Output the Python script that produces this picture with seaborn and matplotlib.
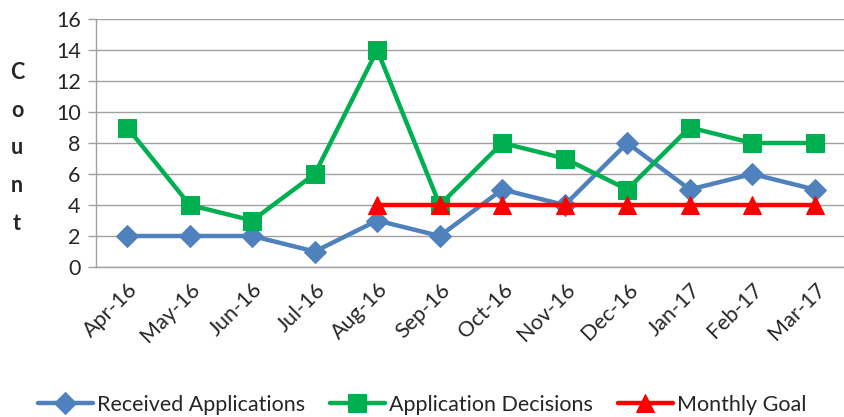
import numpy as np
import pandas as pd
import matplotlib
matplotlib.use("Agg")
import matplotlib.pyplot as plt
import seaborn as sns

months = ["Apr-16", "May-16", "Jun-16", "Jul-16", "Aug-16", "Sep-16",
          "Oct-16", "Nov-16", "Dec-16", "Jan-17", "Feb-17", "Mar-17"]
received = [2, 2, 2, 1, 3, 2, 5, 4, 8, 5, 6, 5]
decisions = [9, 4, 3, 6, 14, 4, 8, 7, 5, 9, 8, 8]
goal = [np.nan, np.nan, np.nan, np.nan, 4, 4, 4, 4, 4, 4, 4, 4]

sns.set_theme(style="white")
plt.rcParams['font.family'] = ['Lato', 'DejaVu Sans']

fig = plt.figure(figsize=(8.44, 4.17), dpi=100)
ax = fig.add_axes([96/844, 1 - 267/417, (846-96)/844, (267-19)/417])

x = np.arange(len(months))
series = [
    ("Received Applications", received, "#4F81BD", "D", 11.5),
    ("Application Decisions", decisions, "#00B050", "s", 13),
    ("Monthly Goal", goal, "#FF0000", "^", 13),
]
for name, vals, col, mk, ms in series:
    df = pd.DataFrame({"x": x, "y": vals})
    sns.lineplot(data=df, x="x", y="y", ax=ax, color=col, marker=mk,
                 markersize=ms, linewidth=3.2, markeredgecolor=col,
                 label=name, zorder=3)

ax.set_xlim(-0.5, len(months) - 0.5)
ax.set_ylim(0, 16)
ax.set_yticks(range(0, 17, 2))
ax.set_yticklabels([str(v) for v in range(0, 17, 2)], fontsize=15.5)
ax.yaxis.grid(True, color="#A0A0A0", linewidth=1)
ax.set_axisbelow(True)

ax.set_xticks(x)
ax.set_xticklabels(months, rotation=45, ha="right", rotation_mode="anchor", fontsize=15.5)
ax.tick_params(axis="x", length=0, pad=9)
ax.set_xticks(np.arange(-0.5, len(months), 1), minor=True)
ax.tick_params(axis="x", which="minor", length=6, color="#A0A0A0", width=1, direction="out")
ax.tick_params(axis="y", length=6, color="#A0A0A0", width=1, direction="out", left=True, pad=5)
ax.set_xlabel("")
ax.set_ylabel("")

for s in ["top", "right"]:
    ax.spines[s].set_visible(False)
for s in ["left", "bottom"]:
    ax.spines[s].set_color("#A0A0A0")
    ax.spines[s].set_linewidth(1)

fig.text(17/844, 1 - 148/417, "C\no\nu\nn\nt", ha="center", va="center",
         fontsize=15.5, fontweight="bold", linespacing=1.98)

leg = ax.legend(loc="center", bbox_to_anchor=(0.5, 1 - 405/417), bbox_transform=fig.transFigure,
                ncol=3, frameon=False, fontsize=15.5, handlelength=2.55,
                columnspacing=1.15, handletextpad=0.2, borderaxespad=0, borderpad=0)

fig.savefig("out.png", dpi=100)
